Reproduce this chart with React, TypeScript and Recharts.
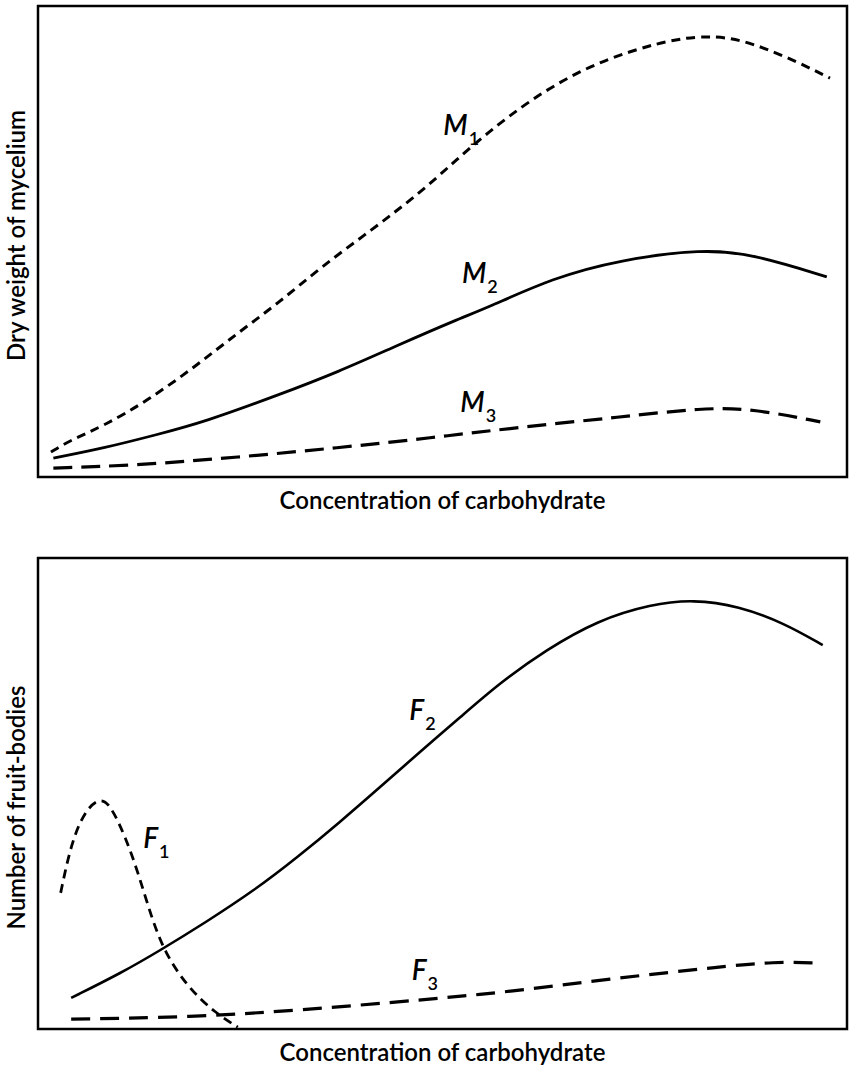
import { LineChart, Line, XAxis, YAxis, ReferenceArea, ReferenceDot } from 'recharts';

// concentration (0-100, arbitrary) and response (0-100, arbitrary)
const m1X = [1.6, 4.1, 8.3, 13.6, 19.4, 24.7, 29.7, 35.0, 41.2, 47.2, 51.3, 55.5, 60.8, 67.0, 73.5, 79.4, 83.1, 86.8, 92.6, 97.9];
const m1Y = [5.3, 7.9, 11.0, 16.3, 23.4, 30.6, 36.9, 44.6, 52.4, 60.3, 66.7, 73.0, 80.0, 86.4, 90.7, 93.2, 93.6, 93.0, 89.2, 84.7];

const m2X = [1.9, 8.3, 14.5, 20.6, 29.7, 37.1, 44.5, 51.9, 55.5, 63.7, 71.9, 82.2, 88.4, 97.5];
const m2Y = [4.0, 6.2, 8.9, 11.7, 17.4, 22.3, 28.0, 33.5, 35.9, 42.3, 46.1, 48.4, 47.3, 42.5];

const m3X = [1.9, 12.4, 24.7, 37.1, 48.5, 59.6, 71.9, 82.2, 88.4, 96.7];
const m3Y = [1.9, 2.5, 4.2, 6.2, 8.3, 10.6, 12.7, 14.7, 14.5, 11.7];

const f1X = [2.8, 4.1, 5.8, 7.7, 9.0, 10.8, 12.4, 14.0, 15.7, 18.5, 21.9, 24.7];
const f1Y = [28.9, 39.5, 46.4, 49.2, 47.4, 40.8, 33.1, 23.8, 16.1, 8.9, 3.4, 0.4];

const f2X = [4.1, 10.3, 15.2, 20.6, 26.8, 32.1, 37.3, 42.3, 47.2, 52.2, 57.1, 62.8, 69.2, 75.8, 81.0, 86.6, 92.2, 97.0];
const f2Y = [6.6, 11.9, 16.8, 22.5, 29.5, 36.5, 43.9, 51.4, 58.8, 66.2, 73.5, 80.5, 86.8, 90.2, 91.2, 89.8, 86.2, 81.5];

const f3X = [4.1, 18.9, 32.4, 47.6, 58.3, 71.4, 84.4, 91.0, 96.5];
const f3Y = [2.1, 2.5, 4.0, 6.2, 7.9, 10.8, 13.2, 14.3, 14.0];

// curve tags: [letter, subscript, x, y]
const topTags: [string, string, number, number][] = [
    ['M', '1', 50.1, 72.7],
    ['M', '2', 52.4, 41.2],
    ['M', '3', 52.2, 13.8],
];
const bottomTags: [string, string, number, number][] = [
    ['F', '1', 13.0, 38.4],
    ['F', '2', 45.9, 65.6],
    ['F', '3', 46.2, 10.4],
];

const FONT = "Lato, 'Open Sans', sans-serif";

const zip = (xs: number[], ys: number[]) => xs.map((x, i) => ({ x, y: ys[i] }));

function CurveTag({ viewBox, letter, sub }: { viewBox?: { x?: number; y?: number }; letter: string; sub: string }) {
    const x = viewBox?.x ?? 0;
    const y = viewBox?.y ?? 0;
    return (
        <text x={x} y={y} fontFamily={FONT} fontStyle="italic" fontWeight={600} fontSize={28} fill="#000">
            {letter}
            <tspan dx={1} dy={10} fontSize={18} fontStyle="normal">{sub}</tspan>
        </text>
    );
}

function YTitle({ viewBox, text, shift }: { viewBox?: { x?: number; y?: number; width?: number; height?: number }; text: string; shift: number }) {
    const x = (viewBox?.x ?? 0) + 15;
    const cy = (viewBox?.y ?? 0) + (viewBox?.height ?? 0) / 2 + shift;
    return (
        <text x={x} y={cy} transform={`rotate(-90, ${x}, ${cy})`} textAnchor="middle" dominantBaseline="central" fontFamily={FONT} fontWeight={600} fontSize={24} fill="#000">
            {text}
        </text>
    );
}

function XTitle({ viewBox }: { viewBox?: { x?: number; y?: number; width?: number } }) {
    const x = (viewBox?.x ?? 0) + (viewBox?.width ?? 0) / 2;
    const y = (viewBox?.y ?? 0) + 32;
    return (
        <text x={x} y={y} textAnchor="middle" fontFamily={FONT} fontWeight={600} fontSize={24} fill="#000">
            Concentration of carbohydrate
        </text>
    );
}

interface Series {
    key: string;
    data: { x: number; y: number }[];
    dash?: string;
    width: number;
}

function Panel({ series, tags, yTitle, yShift, height, top }: { series: Series[]; tags: [string, string, number, number][]; yTitle: string; yShift: number; height: number; top: number }) {
    return (
        <LineChart width={851} height={height} margin={{ top, right: 4, bottom: height - top - 471 - 40, left: 0 }}>
            <XAxis type="number" dataKey="x" domain={[0, 100]} allowDataOverflow axisLine={false} tick={false} tickLine={false} height={40} label={<XTitle />} />
            <YAxis type="number" dataKey="y" domain={[0, 100]} allowDataOverflow axisLine={false} tick={false} tickLine={false} width={38} label={<YTitle text={yTitle} shift={yShift} />} />
            <ReferenceArea x1={0} x2={100} y1={0} y2={100} fill="none" stroke="#000" strokeWidth={2.5} ifOverflow="extendDomain" />
            {series.map((s) => (
                <Line
                    key={s.key}
                    data={s.data}
                    dataKey="y"
                    type="basis"
                    stroke="#000"
                    strokeWidth={s.width}
                    strokeDasharray={s.dash}
                    dot={false}
                    activeDot={false}
                    isAnimationActive={false}
                />
            ))}
            {tags.map(([letter, sub, x, y]) => (
                <ReferenceDot key={letter + sub} x={x} y={y} r={0} fill="none" stroke="none" label={<CurveTag letter={letter} sub={sub} />} />
            ))}
        </LineChart>
    );
}

export default function App() {
    const topSeries: Series[] = [
        { key: 'M1', data: zip(m1X, m1Y), dash: '9 6', width: 3 },
        { key: 'M2', data: zip(m2X, m2Y), width: 2.8 },
        { key: 'M3', data: zip(m3X, m3Y), dash: '19 9', width: 3.2 },
    ];
    const bottomSeries: Series[] = [
        { key: 'F1', data: zip(f1X, f1Y), dash: '9 6', width: 2.8 },
        { key: 'F2', data: zip(f2X, f2Y), width: 2.6 },
        { key: 'F3', data: zip(f3X, f3Y), dash: '19 10', width: 3.2 },
    ];
    return (
        <div style={{ position: 'absolute', left: 0, top: 0, width: 851, height: 1067, background: '#fff' }}>
            <Panel series={topSeries} tags={topTags} yTitle="Dry weight of mycelium" yShift={-6} height={520} top={6} />
            <Panel series={bottomSeries} tags={bottomTags} yTitle="Number of fruit-bodies" yShift={14} height={547} top={38} />
        </div>
    );
}
